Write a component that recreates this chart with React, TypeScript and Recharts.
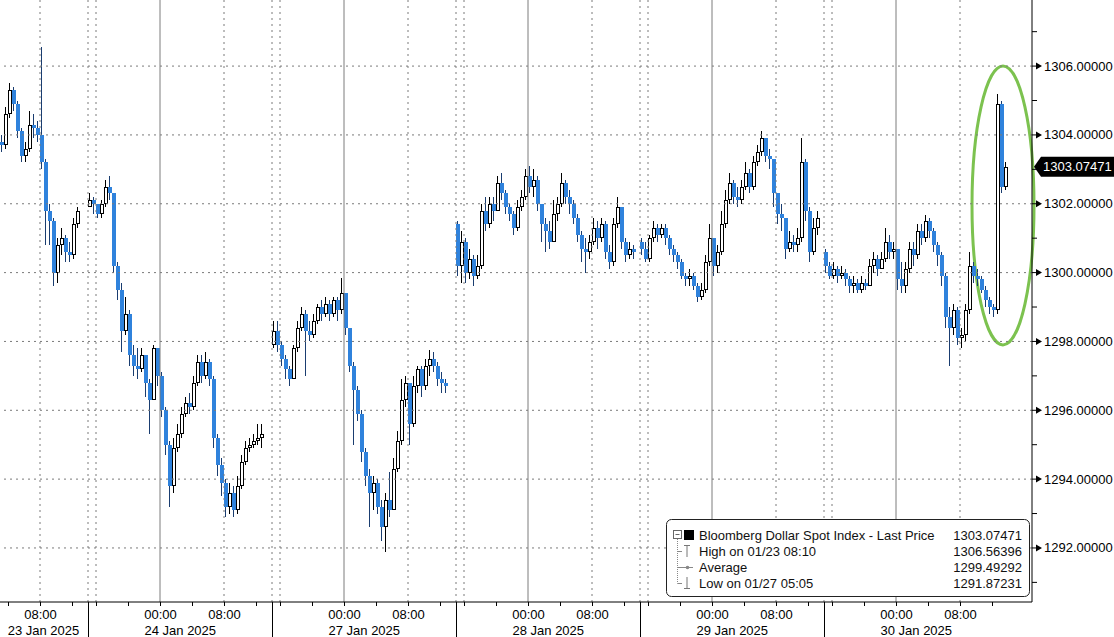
import React from 'react'
import { ComposedChart, Bar, XAxis, YAxis, ReferenceLine, ReferenceArea } from 'recharts'

const dayLabels = ['23 Jan 2025', '24 Jan 2025', '27 Jan 2025', '28 Jan 2025', '29 Jan 2025', '30 Jan 2025']
// half-hour slot (from the 15:00 session start) where each day's visible data begins
const dayFirstSlot = [24, 0, 0, 0, 0, 0]
const dayOpens = [1303.8, 1301.9, 1297.9, 1301.4, 1300.9, 1300.6]

// [high, low, close] per 30 min bar, open = previous close
const jan23 = [
  [1304.0, 1303.5, 1303.7], [1304.8, 1303.6, 1304.6], [1305.5, 1304.5, 1305.3], [1305.4, 1304.7, 1304.9],
  [1305.0, 1303.9, 1304.1], [1304.2, 1303.2, 1303.4], [1303.8, 1303.2, 1303.6], [1304.7, 1303.5, 1304.3],
  [1304.6, 1303.9, 1304.2], [1304.4, 1303.8, 1304.0], [1306.56, 1303.0, 1303.2], [1303.3, 1300.8, 1301.8],
  [1302.0, 1300.8, 1301.5], [1301.6, 1299.6, 1300.0], [1301.0, 1299.7, 1300.8], [1301.3, 1300.5, 1301.0],
  [1301.1, 1300.3, 1300.6], [1300.9, 1300.3, 1300.5], [1301.6, 1300.4, 1301.4], [1301.9, 1301.3, 1301.8],
]
const jan24 = [
  [1302.3, 1301.9, 1302.1], [1302.2, 1301.7, 1302.0], [1302.0, 1301.6, 1301.7], [1302.1, 1301.6, 1302.0],
  [1302.7, 1301.9, 1302.5], [1302.8, 1302.1, 1302.3], [1302.3, 1300.0, 1300.2], [1300.3, 1299.2, 1299.5],
  [1299.7, 1297.7, 1298.3], [1299.3, 1298.2, 1298.8], [1298.9, 1297.3, 1297.6], [1297.9, 1297.0, 1297.3],
  [1297.8, 1296.9, 1297.2], [1297.8, 1297.1, 1297.6], [1297.6, 1296.4, 1296.8], [1296.9, 1295.3, 1296.3],
  [1297.9, 1296.3, 1297.8], [1297.8, 1296.7, 1297.0], [1297.1, 1295.8, 1296.0], [1296.1, 1294.7, 1295.0],
  [1295.1, 1293.2, 1293.8], [1295.2, 1293.6, 1294.9], [1295.6, 1294.8, 1295.3], [1296.1, 1295.2, 1295.9],
  [1296.4, 1295.8, 1296.2], [1296.5, 1295.9, 1296.1], [1297.0, 1296.0, 1296.8], [1297.6, 1296.7, 1297.4],
  [1297.6, 1296.8, 1297.0], [1297.7, 1296.9, 1297.4], [1297.5, 1296.7, 1296.9], [1297.0, 1294.9, 1295.2],
  [1295.3, 1294.1, 1294.4], [1294.6, 1293.5, 1293.9], [1294.0, 1292.9, 1293.2], [1293.9, 1293.0, 1293.6],
  [1293.8, 1292.9, 1293.1], [1294.1, 1293.0, 1293.8], [1294.7, 1293.7, 1294.5], [1295.1, 1294.4, 1294.9],
  [1295.2, 1294.8, 1295.0], [1295.3, 1294.9, 1295.1], [1295.6, 1295.0, 1295.2], [1295.6, 1294.9, 1295.3],
]
const jan27 = [
  [1298.6, 1297.8, 1298.3], [1298.6, 1297.7, 1297.9], [1298.0, 1297.3, 1297.5], [1297.6, 1296.9, 1297.2],
  [1297.3, 1296.7, 1296.9], [1297.9, 1296.9, 1297.8], [1298.6, 1297.7, 1298.4], [1299.0, 1298.3, 1298.8],
  [1298.9, 1297.0, 1298.3], [1298.6, 1298.0, 1298.2], [1298.8, 1298.1, 1298.6], [1299.1, 1298.5, 1299.0],
  [1299.2, 1298.6, 1298.8], [1299.3, 1298.7, 1299.1], [1299.2, 1298.6, 1298.8], [1299.3, 1298.7, 1299.2],
  [1299.3, 1298.6, 1298.9], [1299.85, 1298.8, 1299.4], [1299.4, 1298.2, 1298.4], [1298.4, 1297.1, 1297.3],
  [1297.4, 1295.0, 1296.6], [1296.7, 1295.7, 1295.9], [1296.0, 1294.5, 1294.8], [1294.9, 1293.8, 1294.1],
  [1294.3, 1292.6, 1293.6], [1294.1, 1293.1, 1293.9], [1294.0, 1293.0, 1293.2], [1293.4, 1292.2, 1292.6],
  [1293.6, 1291.87, 1293.4], [1294.2, 1292.9, 1293.1], [1294.6, 1293.1, 1294.3], [1295.4, 1294.2, 1295.1],
  [1296.9, 1295.0, 1296.3], [1297.0, 1296.1, 1296.8], [1296.8, 1295.0, 1295.6], [1297.0, 1295.5, 1296.7],
  [1297.3, 1296.5, 1297.2], [1297.3, 1296.4, 1296.7], [1297.5, 1296.6, 1297.3], [1297.75, 1297.0, 1297.5],
  [1297.7, 1297.1, 1297.3], [1297.4, 1296.7, 1296.9], [1297.1, 1296.5, 1296.8], [1296.9, 1296.5, 1296.7],
]
const jan28 = [
  [1301.5, 1299.9, 1300.2], [1301.2, 1299.7, 1300.9], [1301.0, 1299.7, 1300.0], [1300.7, 1299.8, 1300.4],
  [1300.5, 1299.6, 1299.9], [1300.5, 1299.8, 1300.2], [1302.0, 1300.1, 1301.8], [1302.2, 1301.2, 1301.4],
  [1302.2, 1301.3, 1302.0], [1302.2, 1301.5, 1301.8], [1302.8, 1301.8, 1302.6], [1302.9, 1302.1, 1302.3],
  [1302.4, 1301.7, 1301.9], [1302.0, 1301.5, 1301.7], [1301.8, 1301.1, 1301.3], [1302.1, 1301.2, 1301.9],
  [1302.4, 1301.8, 1302.2], [1303.0, 1302.1, 1302.8], [1303.1, 1302.3, 1302.5], [1303.0, 1302.2, 1302.7],
  [1302.8, 1301.8, 1302.0], [1302.0, 1300.9, 1301.4], [1301.6, 1300.6, 1301.2], [1301.5, 1300.7, 1300.9],
  [1302.1, 1300.9, 1301.7], [1302.2, 1301.5, 1302.0], [1302.9, 1301.9, 1302.6], [1302.7, 1302.0, 1302.2],
  [1302.4, 1301.7, 1302.0], [1302.1, 1301.4, 1301.6], [1301.7, 1300.9, 1301.1], [1301.2, 1300.3, 1300.7],
  [1301.0, 1300.0, 1300.6], [1301.1, 1300.4, 1300.9], [1301.6, 1300.8, 1301.3], [1301.5, 1300.7, 1301.0],
  [1301.6, 1300.9, 1301.4], [1301.5, 1300.4, 1300.6], [1300.8, 1300.1, 1300.3], [1301.6, 1300.2, 1301.4],
  [1302.2, 1301.3, 1301.9], [1301.9, 1300.7, 1300.9], [1301.0, 1300.3, 1300.5], [1300.9, 1300.4, 1300.7],
  [1300.8, 1300.4, 1300.6],
]
const jan29 = [
  [1301.0, 1300.5, 1300.7], [1300.9, 1300.3, 1300.4], [1301.1, 1300.3, 1301.0], [1301.5, 1300.9, 1301.3],
  [1301.4, 1300.9, 1301.1], [1301.4, 1301.0, 1301.3], [1301.4, 1300.8, 1301.0], [1301.1, 1300.5, 1300.7],
  [1300.8, 1300.3, 1300.5], [1300.6, 1300.1, 1300.3], [1300.4, 1299.8, 1299.9], [1300.0, 1299.6, 1299.8],
  [1300.1, 1299.6, 1299.9], [1300.0, 1299.5, 1299.6], [1299.7, 1299.15, 1299.3], [1299.7, 1299.2, 1299.5],
  [1300.5, 1299.4, 1300.3], [1301.4, 1300.2, 1301.0], [1301.0, 1299.9, 1300.2], [1300.8, 1300.0, 1300.6],
  [1301.8, 1300.5, 1301.4], [1302.4, 1301.3, 1302.1], [1302.9, 1302.0, 1302.6], [1302.7, 1302.0, 1302.2],
  [1302.5, 1301.9, 1302.1], [1302.7, 1302.0, 1302.5], [1303.2, 1302.4, 1302.9], [1303.0, 1302.3, 1302.5],
  [1303.4, 1302.4, 1303.2], [1303.7, 1303.1, 1303.5], [1304.1, 1303.4, 1303.9], [1303.9, 1303.2, 1303.4],
  [1303.6, 1303.0, 1303.3], [1303.3, 1301.9, 1302.3], [1302.3, 1301.4, 1301.7], [1302.0, 1301.2, 1301.6],
  [1301.6, 1300.4, 1300.7], [1301.2, 1300.6, 1300.9], [1301.1, 1300.6, 1300.8], [1301.3, 1300.6, 1301.0],
  [1303.9, 1300.9, 1303.2], [1303.3, 1301.5, 1301.8], [1301.9, 1300.3, 1300.6], [1301.6, 1300.5, 1301.3],
  [1301.8, 1301.1, 1301.6],
]
const jan30 = [
  [1300.7, 1300.0, 1300.2], [1300.3, 1299.8, 1299.9], [1300.3, 1299.8, 1300.1], [1300.2, 1299.7, 1299.9],
  [1300.2, 1299.8, 1300.0], [1300.1, 1299.6, 1299.8], [1299.9, 1299.4, 1299.6], [1299.9, 1299.4, 1299.7],
  [1299.8, 1299.4, 1299.5], [1299.9, 1299.4, 1299.7], [1299.8, 1299.5, 1299.6], [1300.4, 1299.6, 1300.2],
  [1300.6, 1300.0, 1300.4], [1300.5, 1299.9, 1300.1], [1300.6, 1300.1, 1300.4], [1301.3, 1300.3, 1300.9],
  [1301.1, 1300.4, 1300.6], [1300.9, 1300.4, 1300.7], [1300.7, 1299.5, 1299.8], [1300.3, 1299.4, 1299.6],
  [1300.3, 1299.4, 1300.1], [1300.9, 1300.0, 1300.7], [1300.9, 1300.2, 1300.5], [1301.4, 1300.4, 1301.2],
  [1301.4, 1300.8, 1301.0], [1301.67, 1300.9, 1301.5], [1301.6, 1301.0, 1301.2], [1301.3, 1300.6, 1300.8],
  [1300.9, 1300.2, 1300.5], [1300.6, 1299.6, 1299.9], [1300.0, 1298.4, 1298.7], [1299.0, 1297.3, 1298.4],
  [1299.1, 1298.2, 1298.9], [1299.0, 1297.9, 1298.1], [1298.4, 1297.8, 1298.2], [1299.1, 1298.0, 1298.9],
  [1300.6, 1298.8, 1300.2], [1300.3, 1299.7, 1299.9], [1300.1, 1299.6, 1299.8], [1299.9, 1299.4, 1299.5],
  [1299.6, 1299.0, 1299.2], [1299.3, 1298.8, 1299.0], [1299.1, 1298.7, 1298.9], [1305.2, 1298.8, 1304.9],
  [1305.0, 1302.3, 1302.5], [1303.2, 1302.4, 1303.07471],
]
const dayCandles = [jan23, jan24, jan27, jan28, jan29, jan30]

const priceTicks = [1291, 1292, 1293, 1294, 1295, 1296, 1297, 1298, 1299, 1300, 1301, 1302, 1303, 1304, 1305, 1306, 1307]
const gridPrices = [1292, 1294, 1296, 1298, 1300, 1302, 1304, 1306]
const lastPrice = 1303.07471
const legendNames = ['Bloomberg Dollar Spot Index - Last Price', 'High on 01/23 08:10', 'Average', 'Low on 01/27 05:05']
const legendValues = ['1303.07471', '1306.56396', '1299.49292', '1291.87231']

const FONT = '"Liberation Sans", Arial, sans-serif'
const SLOTS_PER_DAY = 46
const TRAILING_SLOTS = 6
const UP_STROKE = '#000000'
const DOWN_FILL = '#2f82dc'
const DOWN_WICK = '#1a3d70'
const GRID = '#7a7a7a'

type Row = {
  t: string
  day: number
  k: number
  hh: number
  mm: number
  pad?: boolean
  o?: number
  h?: number
  l?: number
  c?: number
}

const rows: Row[] = []
dayLabels.forEach((_, d) => {
  let prev = dayOpens[d]
  const candles = dayCandles[d]
  for (let k = dayFirstSlot[d]; k < SLOTS_PER_DAY; k++) {
    const mins = 15 * 60 + 30 * k
    const row: Row = { t: `${d}-${k}`, day: d, k, hh: Math.floor(mins / 60) % 24, mm: mins % 60 }
    const ci = k - dayFirstSlot[d]
    if (ci < candles.length) {
      const [h, l, c] = candles[ci]
      row.o = prev
      row.h = h
      row.l = l
      row.c = c
      prev = c
    }
    rows.push(row)
  }
})
for (let k = 0; k < TRAILING_SLOTS; k++) {
  const mins = 15 * 60 + 30 * k
  rows.push({ t: `pad-${k}`, day: -1, k, hh: Math.floor(mins / 60), mm: mins % 60, pad: true })
}
const rowByKey: Record<string, Row> = {}
rows.forEach((r) => (rowByKey[r.t] = r))

const axisTicks = rows.filter((r) => !r.pad && ((r.mm === 0 && r.hh % 4 === 0) || r.k === 0)).map((r) => r.t)
const dottedLines = rows.filter((r) => !r.pad && (r.k === 0 || (r.mm === 0 && (r.hh === 16 || r.hh === 8)))).map((r) => r.t)
const midnightLines = rows.filter((r) => !r.pad && r.mm === 0 && r.hh === 0).map((r) => r.t)

const hhmm = (r: Row) => `${String(r.hh).padStart(2, '0')}:${String(r.mm).padStart(2, '0')}`

function Candle(props: any) {
  const { x, y, width, height, payload } = props
  if (!payload || payload.c == null) return null
  const { o, h, l, c } = payload as Required<Row>
  const span = h - l || 1
  const py = (v: number) => Math.round(y + ((h - v) / span) * height)
  const cx = Math.round(x + width / 2)
  const top = py(Math.max(o, c))
  const bot = Math.max(py(Math.min(o, c)), top + 1)
  const wx = cx - 0.5
  if (c >= o) {
    return (
      <g shapeRendering="crispEdges">
        <line x1={wx} x2={wx} y1={py(h)} y2={py(l)} stroke={UP_STROKE} strokeWidth={1} />
        <rect x={cx - 1.5} y={top + 0.5} width={3} height={Math.max(bot - top - 1, 1)} fill="#fff" stroke={UP_STROKE} strokeWidth={1} />
      </g>
    )
  }
  return (
    <g shapeRendering="crispEdges">
      <line x1={wx} x2={wx} y1={py(h)} y2={py(l)} stroke={DOWN_WICK} strokeWidth={1} />
      <rect x={cx - 2} y={top} width={4} height={bot - top} fill={DOWN_FILL} />
    </g>
  )
}

function TimeTick(props: any) {
  const { x, y, payload } = props
  const r = rowByKey[payload.value]
  if (!r) return null
  const x0 = Math.round(x - (payload.offset ?? 2)) + 0.5
  const parts: React.ReactNode[] = []
  if (r.k === 0) {
    parts.push(<line key="sep" x1={x0} x2={x0} y1={y} y2={y + 40} stroke="#000" />)
  }
  if (r.mm === 0 && r.hh % 4 === 0) {
    parts.push(<line key="tk" x1={x0} x2={x0} y1={y} y2={y + 4} stroke="#000" />)
  }
  if (r.mm === 0 && (r.hh === 0 || r.hh === 8)) {
    parts.push(
      <text key="tm" x={x0} y={y + 16.5} textAnchor="middle" fontSize={13} fontFamily={FONT} fill="#000">
        {hhmm(r)}
      </text>
    )
  }
  if (r.day === 0 && r.hh === 8 && r.mm === 0) {
    parts.push(
      <text key="dt" x={x0 + 3} y={y + 32.5} textAnchor="middle" fontSize={13} fontFamily={FONT} fill="#000">
        {dayLabels[r.day]}
      </text>
    )
  }
  if (r.day > 0 && r.hh === 0 && r.mm === 0) {
    parts.push(
      <text key="dt" x={x0 - 16} y={y + 32.5} textAnchor="start" fontSize={13} fontFamily={FONT} fill="#000">
        {dayLabels[r.day]}
      </text>
    )
  }
  return <g>{parts}</g>
}

function PriceTick(props: any) {
  const { x, y, payload } = props
  const v = payload.value as number
  if (v % 2 !== 0) return <line x1={x} x2={x + 5} y1={y} y2={y} stroke="#000" />
  return (
    <g>
      <line x1={x} x2={x + 4} y1={y} y2={y} stroke="#000" />
      <path d={`M${x + 4},${y - 3.5}L${x + 10},${y}L${x + 4},${y + 3.5}Z`} fill="#000" />
      <text x={x + 12} y={y + 4.5} fontSize={13} fontFamily={FONT} fill="#000">
        {v.toFixed(5)}
      </text>
    </g>
  )
}

function LastTag(props: any) {
  const vb = props.viewBox || {}
  const x = vb.x + vb.width
  const y = vb.y
  return (
    <g>
      <path d={`M${x + 2},${y}L${x + 9},${y - 10}L${x + 90},${y - 10}L${x + 90},${y + 10}L${x + 9},${y + 10}Z`} fill="#000" />
      <text x={x + 11} y={y + 4.5} fontSize={13} fontFamily={FONT} fill="#fff">
        {lastPrice.toFixed(5)}
      </text>
    </g>
  )
}

function Ring(props: any) {
  const { x, y, width, height } = props
  return (
    <ellipse
      cx={x + width / 2 + 1}
      cy={y + height / 2}
      rx={width / 2 + 1}
      ry={height / 2}
      fill="none"
      stroke="#7cc24f"
      strokeWidth={3}
    />
  )
}

function LegendBox() {
  const rowsY = [17, 33, 49, 65]
  return (
    <svg width={366} height={80} style={{ position: 'absolute', left: 665, top: 518 }}>
      <rect x={1.5} y={1.5} width={363} height={77} rx={5} fill="#fff" stroke="#222" />
      <rect x={8.5} y={12.5} width={8} height={8} fill="#fff" stroke="#666" />
      <line x1={10.5} x2={14.5} y1={16.5} y2={16.5} stroke="#666" />
      <line x1={12.5} x2={12.5} y1={21} y2={65.5} stroke="#888" strokeDasharray="1 1" />
      {[33, 49, 65].map((yy) => (
        <line key={yy} x1={12.5} x2={17} y1={yy + 0.5} y2={yy + 0.5} stroke="#888" />
      ))}
      <rect x={19} y={12} width={10} height={10} fill="#000" />
      <line x1={19} x2={25} y1={27.5} y2={27.5} stroke="#777" />
      <line x1={22} x2={22} y1={27.5} y2={39} stroke="#777" />
      <line x1={17} x2={28} y1={49.5} y2={49.5} stroke="#888" />
      <circle cx={22.5} cy={49.5} r={1.8} fill="#888" />
      <line x1={22} x2={22} y1={59} y2={70.5} stroke="#777" />
      <line x1={19} x2={25} y1={70.5} y2={70.5} stroke="#777" />
      {legendNames.map((name, i) => (
        <text key={name} x={34} y={rowsY[i] + 4.5} fontSize={13} fontFamily={FONT} fill="#111">
          {name}
        </text>
      ))}
      {legendValues.map((val, i) => (
        <text key={i} x={357} y={rowsY[i] + 4.5} textAnchor="end" fontSize={13} fontFamily={FONT} fill="#111">
          {val}
        </text>
      ))}
    </svg>
  )
}

export default function App() {
  const ringFrom = rowByKey['5-37'] ? '5-37' : rows[rows.length - 16].t
  const ringTo = rows[rows.length - 1].t
  return (
    <div style={{ position: 'absolute', left: 0, top: 0, width: 1114, height: 637, background: '#fff', overflow: 'hidden' }}>
      <ComposedChart
        width={1114}
        height={637}
        data={rows}
        margin={{ top: 0, right: 0, bottom: 0, left: 0 }}
        barCategoryGap={0}
      >
        <XAxis
          dataKey="t"
          type="category"
          ticks={axisTicks}
          interval={0}
          tick={<TimeTick />}
          tickLine={false}
          tickSize={0}
          tickMargin={0}
          axisLine={{ stroke: '#000' }}
          height={35}
        />
        <YAxis
          orientation="right"
          type="number"
          domain={[1290.43, 1307.92]}
          allowDataOverflow
          ticks={priceTicks}
          interval={0}
          tick={<PriceTick />}
          tickLine={false}
          tickSize={0}
          tickMargin={0}
          axisLine={{ stroke: '#000' }}
          width={82}
        />
        {gridPrices.map((p) => (
          <ReferenceLine key={`g${p}`} y={p} stroke={GRID} strokeDasharray="2 4" />
        ))}
        {dottedLines.map((t) => (
          <ReferenceLine key={`d${t}`} x={t} position="start" stroke={GRID} strokeDasharray="2 4" />
        ))}
        {midnightLines.map((t) => (
          <ReferenceLine key={`m${t}`} x={t} position="start" stroke="#7d7d7d" />
        ))}
        <Bar
          dataKey={(r: Row) => (r.c == null ? null : [r.l, r.h])}
          shape={<Candle />}
          barSize={4}
          isAnimationActive={false}
        />
        <ReferenceLine y={lastPrice} stroke="none" label={<LastTag />} />
        <ReferenceArea
          x1={ringFrom}
          x2={ringTo}
          y1={1297.9}
          y2={1306.0}
          shape={<Ring />}
          ifOverflow="visible"
        />
      </ComposedChart>
      <LegendBox />
    </div>
  )
}
